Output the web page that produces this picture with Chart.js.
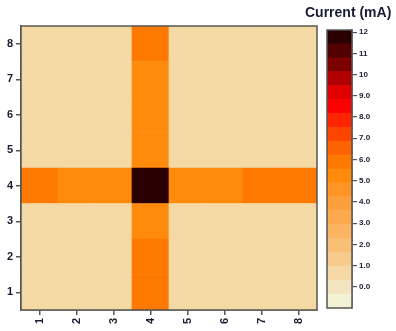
<!DOCTYPE html>
<html>
<head>
<meta charset="utf-8">
<script src="https://cdn.jsdelivr.net/npm/chart.js@4/dist/chart.umd.min.js"></script>
<style>
  html, body { margin: 0; padding: 0; background: #fff; }
  #wrap { position: relative; width: 396px; height: 331px; overflow: hidden; }
  #main { position: absolute; left: 0; top: 0; }
  #bar { position: absolute; left: 320px; top: 0; }
  #title { position: absolute; left: 305px; top: 4px; font: bold 14px "Liberation Sans", Arial, sans-serif; color: #1a1a33; white-space: nowrap; }
</style>
</head>
<body>
<div id="wrap">
  <canvas id="main" width="325" height="331"></canvas>
  <canvas id="bar" width="76" height="331"></canvas>
  <div id="title">Current (mA)</div>
</div>
<script>
// ---- data ----
const xLabels = ['1', '2', '3', '4', '5', '6', '7', '8'];
const yLabels = [1, 2, 3, 4, 5, 6, 7, 8];
// current[r] = row at y = yLabels[r], values for x = 1..8 (mA)
const row1 = [0.6, 0.6, 0.6, 5.9, 0.6, 0.6, 0.6, 0.6];
const row2 = [0.6, 0.6, 0.6, 5.9, 0.6, 0.6, 0.6, 0.6];
const row3 = [0.6, 0.6, 0.6, 5.2, 0.6, 0.6, 0.6, 0.6];
const row4 = [5.9, 5.2, 5.2, 12.0, 5.2, 5.2, 5.9, 5.9];
const row5 = [0.6, 0.6, 0.6, 5.2, 0.6, 0.6, 0.6, 0.6];
const row6 = [0.6, 0.6, 0.6, 5.2, 0.6, 0.6, 0.6, 0.6];
const row7 = [0.6, 0.6, 0.6, 5.2, 0.6, 0.6, 0.6, 0.6];
const row8 = [0.6, 0.6, 0.6, 5.9, 0.6, 0.6, 0.6, 0.6];
const current = [row1, row2, row3, row4, row5, row6, row7, row8];

// colour scale levels (bottom to top) and band colours
const levels = [-1.0, -0.35, 0.31, 0.97, 1.62, 2.28, 2.93, 3.59, 4.24, 4.9, 5.55,
                6.21, 6.86, 7.52, 8.17, 8.83, 9.48, 10.14, 10.79, 11.45, 12.1];
const bandColors = ['#f2f2d5', '#f3e5c0', '#f5d9a5', '#f6cb8c', '#f8bf77', '#fab462',
                    '#fca94f', '#fd9f3c', '#ff9525', '#ff8a0c', '#ff7800', '#ff6200',
                    '#ff4400', '#ff2400', '#ff0000', '#e00000', '#b00000', '#7d0000',
                    '#520000', '#2b0000'];
const barTicks = [0, 1, 2, 3, 4, 5, 6, 7, 8, 9, 10, 11, 12];

function colorFor(v) {
  for (let i = 0; i < bandColors.length; i++) {
    if (v >= levels[i] && v < levels[i + 1]) return bandColors[i];
  }
  return v < levels[0] ? bandColors[0] : bandColors[bandColors.length - 1];
}

const textColor = '#1a1a33';
const edgeColor = '#555555';

const frame = {
  id: 'frame',
  afterDraw(chart) {
    const a = chart.chartArea, c = chart.ctx;
    c.save();
    c.strokeStyle = edgeColor;
    c.lineWidth = 1.5;
    c.strokeRect(a.left, a.top, a.right - a.left, a.bottom - a.top);
    c.restore();
  }
};

// ---- main heat map ----
new Chart(document.getElementById('main'), {
  type: 'bar',
  data: {
    labels: xLabels,
    datasets: current.map((row, r) => ({
      label: 'y=' + yLabels[r],
      data: row.map(() => [yLabels[r] - 0.5, yLabels[r] + 0.5]),
      backgroundColor: row.map(colorFor),
      borderWidth: 0,
      grouped: false,
      barPercentage: 1,
      categoryPercentage: 1
    }))
  },
  options: {
    responsive: false,
    animation: false,
    layout: { padding: { left: 0, top: 26, right: 8, bottom: 0 } },
    plugins: { legend: { display: false }, tooltip: { enabled: false }, title: { display: false } },
    scales: {
      x: {
        type: 'category',
        offset: true,
        grid: { display: true, offset: false, drawOnChartArea: false, drawTicks: true, tickLength: 5, color: edgeColor, lineWidth: 1.5 },
        border: { display: true, color: edgeColor, width: 1.5 },
        ticks: { color: textColor, font: { family: 'Liberation Sans', weight: 'bold', size: 11 }, maxRotation: 90, minRotation: 90, padding: 3 },
        afterFit(s) { s.height = 21; }
      },
      y: {
        type: 'linear',
        min: 0.5,
        max: 8.5,
        afterBuildTicks(s) { s.ticks = yLabels.map(v => ({ value: v })); },
        grid: { display: true, drawOnChartArea: false, drawTicks: true, tickLength: 5, color: edgeColor, lineWidth: 1.5 },
        border: { display: true, color: edgeColor, width: 1.5 },
        ticks: { color: textColor, font: { family: 'Liberation Sans', weight: 'bold', size: 11 }, padding: 3 },
        afterFit(s) { s.width = 21; }
      }
    }
  },
  plugins: [frame]
});

// ---- colour bar ----
new Chart(document.getElementById('bar'), {
  type: 'bar',
  data: {
    labels: ['scale'],
    datasets: bandColors.map((col, i) => ({
      label: 'band' + i,
      data: [[levels[i], levels[i + 1]]],
      backgroundColor: col,
      borderWidth: 0,
      grouped: false,
      barPercentage: 1,
      categoryPercentage: 1
    }))
  },
  options: {
    responsive: false,
    animation: false,
    layout: { padding: { left: 7, top: 30, right: 0, bottom: 23 } },
    plugins: { legend: { display: false }, tooltip: { enabled: false } },
    scales: {
      x: { display: false, offset: true },
      y: {
        type: 'linear',
        position: 'right',
        min: levels[0],
        max: levels[levels.length - 1],
        afterBuildTicks(s) { s.ticks = barTicks.map(v => ({ value: v })); },
        grid: { display: true, drawOnChartArea: false, drawTicks: true, tickLength: 5, color: edgeColor, lineWidth: 1.2 },
        border: { display: true, color: edgeColor, width: 1.5 },
        ticks: {
          color: textColor,
          font: { family: 'Liberation Sans', weight: 'bold', size: 8 },
          padding: 2,
          callback: v => (v >= 10 ? String(v) : v.toFixed(1))
        },
        afterFit(s) { s.width = 44; }
      }
    }
  },
  plugins: [frame]
});
</script>
</body>
</html>
